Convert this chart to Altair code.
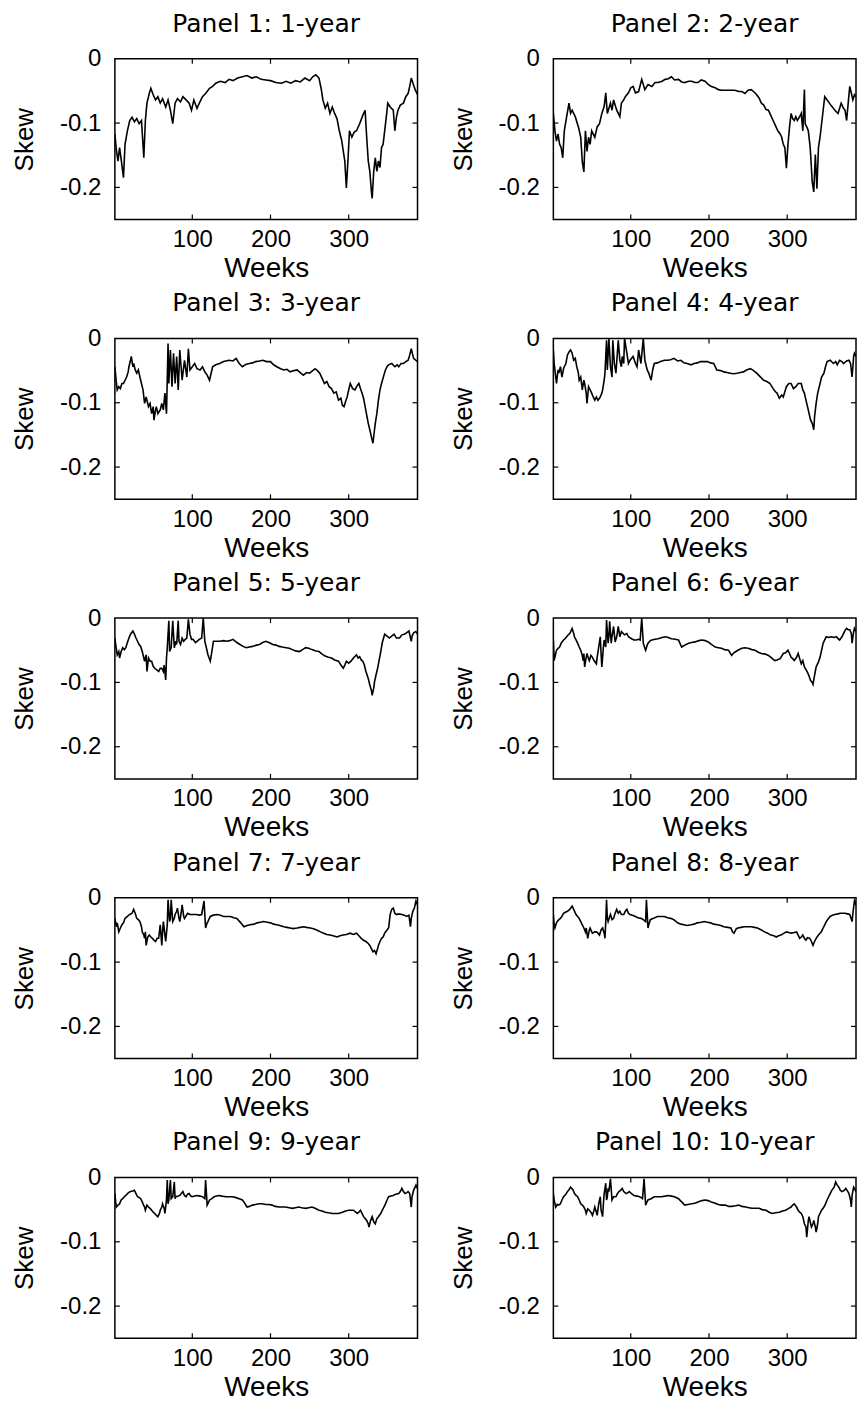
import altair as alt
import pandas as pd

TITLES = ["Panel 1: 1-year", "Panel 2: 2-year", "Panel 3: 3-year", "Panel 4: 4-year",
          "Panel 5: 5-year", "Panel 6: 6-year", "Panel 7: 7-year", "Panel 8: 8-year",
          "Panel 9: 9-year", "Panel 10: 10-year"]
X_TICKS = [100, 200, 300]
Y_TICKS = [0, -0.1, -0.2]

W1 = [1,3,5,7,9,12,14,17,20,23,26,29,32,35,38,40,42,45,47,50,53,56,59,62,66,69,72,75,78,81,85,88,92,96,99,102,106,109,113,117,122,126,130,136,142,147,152,158,164,170,176,182,188,194,200,207,214,220,226,232,238,244,250,254,258,262,265,267,270,273,276,279,282,285,288,291,293,295,297,299,301,304,307,310,314,318,321,323,325,327,329,330,332,334,336,338,340,342,344,346,348,350,353,357,359,361,363,366,370,373,376,378,380,383,385,388]
S1 = [-0.117,-0.143,-0.159,-0.138,-0.156,-0.185,-0.133,-0.112,-0.096,-0.091,-0.098,-0.093,-0.101,-0.096,-0.154,-0.096,-0.069,-0.054,-0.046,-0.056,-0.064,-0.059,-0.069,-0.062,-0.075,-0.064,-0.080,-0.101,-0.069,-0.062,-0.067,-0.059,-0.064,-0.069,-0.080,-0.064,-0.077,-0.069,-0.059,-0.054,-0.046,-0.043,-0.038,-0.035,-0.037,-0.032,-0.034,-0.030,-0.028,-0.026,-0.030,-0.028,-0.032,-0.033,-0.034,-0.037,-0.038,-0.035,-0.038,-0.034,-0.036,-0.030,-0.034,-0.028,-0.025,-0.030,-0.048,-0.064,-0.077,-0.069,-0.085,-0.075,-0.085,-0.093,-0.112,-0.127,-0.143,-0.159,-0.201,-0.159,-0.112,-0.122,-0.114,-0.112,-0.101,-0.088,-0.080,-0.122,-0.159,-0.175,-0.206,-0.217,-0.175,-0.154,-0.175,-0.159,-0.169,-0.138,-0.133,-0.112,-0.091,-0.069,-0.075,-0.080,-0.112,-0.091,-0.080,-0.072,-0.069,-0.059,-0.054,-0.043,-0.030,-0.041,-0.048,-0.056]

W2 = [1,3,5,7,9,11,13,15,18,21,23,25,29,33,36,38,40,42,44,46,48,50,54,57,60,63,66,68,70,74,76,78,82,86,88,91,93,97,100,103,106,110,114,118,122,127,131,135,140,144,148,152,156,161,165,169,174,178,182,186,190,195,199,203,208,212,216,220,226,233,238,242,246,250,254,258,261,264,267,270,273,276,279,282,285,288,291,293,295,297,299,301,303,305,307,309,311,313,316,318,320,322,323,325,327,329,330,332,334,336,338,340,342,344,346,348,351,354,357,361,365,369,372,374,376,378,380,382,384,386,388]
S2 = [-0.085,-0.112,-0.128,-0.117,-0.133,-0.138,-0.154,-0.112,-0.090,-0.069,-0.085,-0.080,-0.090,-0.106,-0.122,-0.160,-0.176,-0.112,-0.144,-0.122,-0.133,-0.112,-0.122,-0.106,-0.101,-0.085,-0.074,-0.053,-0.085,-0.069,-0.080,-0.064,-0.080,-0.090,-0.069,-0.064,-0.059,-0.053,-0.045,-0.043,-0.053,-0.051,-0.032,-0.048,-0.040,-0.043,-0.037,-0.037,-0.035,-0.032,-0.031,-0.028,-0.033,-0.032,-0.036,-0.037,-0.035,-0.035,-0.037,-0.037,-0.033,-0.035,-0.040,-0.043,-0.045,-0.048,-0.049,-0.049,-0.049,-0.049,-0.051,-0.051,-0.054,-0.049,-0.048,-0.052,-0.056,-0.061,-0.069,-0.072,-0.079,-0.080,-0.088,-0.096,-0.104,-0.112,-0.117,-0.122,-0.133,-0.138,-0.170,-0.133,-0.106,-0.085,-0.093,-0.096,-0.090,-0.096,-0.090,-0.085,-0.112,-0.048,-0.101,-0.106,-0.112,-0.133,-0.149,-0.191,-0.207,-0.149,-0.202,-0.138,-0.122,-0.101,-0.080,-0.059,-0.064,-0.069,-0.074,-0.080,-0.085,-0.069,-0.077,-0.080,-0.096,-0.069,-0.043,-0.053,-0.064,-0.056,-0.059]

W3 = [1,3,4,6,8,10,12,14,16,18,19,21,22,24,25,27,29,31,33,35,37,39,41,44,46,48,50,51,53,54,56,59,61,63,65,67,69,70,72,74,76,78,80,82,84,87,90,93,95,97,100,103,106,110,113,116,119,122,126,130,135,140,147,152,156,160,164,169,173,177,181,186,190,195,200,204,208,213,217,221,225,230,234,238,242,246,250,254,257,260,263,266,269,272,275,278,281,284,287,290,292,294,296,298,300,302,305,308,311,313,315,317,319,321,323,325,327,329,331,333,334,336,338,340,342,345,347,349,351,355,359,362,364,367,370,373,376,378,380,382,383,386,388]
S3 = [-0.044,-0.070,-0.080,-0.075,-0.078,-0.070,-0.070,-0.065,-0.060,-0.052,-0.044,-0.034,-0.028,-0.044,-0.039,-0.049,-0.054,-0.049,-0.060,-0.070,-0.080,-0.101,-0.091,-0.106,-0.101,-0.117,-0.106,-0.127,-0.111,-0.106,-0.117,-0.111,-0.101,-0.111,-0.085,-0.117,-0.008,-0.070,-0.018,-0.075,-0.023,-0.070,-0.028,-0.080,-0.018,-0.065,-0.034,-0.060,-0.016,-0.049,-0.044,-0.039,-0.047,-0.049,-0.044,-0.052,-0.057,-0.065,-0.044,-0.041,-0.039,-0.036,-0.034,-0.035,-0.031,-0.039,-0.044,-0.040,-0.039,-0.038,-0.036,-0.035,-0.034,-0.036,-0.036,-0.041,-0.044,-0.047,-0.049,-0.048,-0.052,-0.050,-0.049,-0.053,-0.057,-0.053,-0.054,-0.050,-0.047,-0.050,-0.054,-0.062,-0.070,-0.067,-0.075,-0.078,-0.085,-0.083,-0.096,-0.093,-0.104,-0.106,-0.098,-0.091,-0.080,-0.070,-0.078,-0.080,-0.073,-0.070,-0.078,-0.085,-0.093,-0.106,-0.119,-0.132,-0.142,-0.153,-0.163,-0.142,-0.132,-0.117,-0.096,-0.080,-0.070,-0.057,-0.049,-0.044,-0.041,-0.039,-0.044,-0.041,-0.044,-0.039,-0.039,-0.036,-0.034,-0.026,-0.016,-0.026,-0.031,-0.034,-0.036]

W4 = [1,2,3,5,7,8,10,12,14,15,17,19,21,23,25,27,29,31,33,34,36,38,40,41,43,44,46,48,50,52,54,56,58,60,61,63,64,66,67,69,70,72,74,76,77,79,81,84,86,88,89,91,92,95,97,99,103,106,108,110,113,116,118,121,123,126,128,130,134,138,143,147,151,155,160,164,168,172,177,181,185,189,194,198,202,206,210,215,219,223,227,231,236,240,244,248,253,257,261,265,270,274,278,282,285,287,290,293,295,297,299,302,305,308,311,314,318,320,322,324,326,328,330,332,334,335,337,339,342,344,347,349,351,355,359,362,364,367,370,372,376,379,381,383,385,386,388]
S4 = [-0.018,-0.039,-0.049,-0.070,-0.049,-0.054,-0.044,-0.060,-0.047,-0.044,-0.039,-0.026,-0.021,-0.018,-0.023,-0.034,-0.031,-0.044,-0.054,-0.065,-0.060,-0.080,-0.065,-0.070,-0.085,-0.101,-0.075,-0.080,-0.085,-0.091,-0.096,-0.091,-0.096,-0.093,-0.091,-0.085,-0.080,-0.065,-0.054,-0.003,-0.049,0.000,-0.044,-0.060,-0.003,-0.039,-0.054,-0.003,-0.034,-0.044,-0.028,-0.039,0.000,-0.023,-0.039,-0.034,-0.028,-0.039,-0.044,-0.018,-0.039,0.000,-0.034,-0.049,-0.054,-0.065,-0.049,-0.039,-0.038,-0.036,-0.034,-0.034,-0.033,-0.031,-0.035,-0.034,-0.038,-0.039,-0.041,-0.039,-0.038,-0.036,-0.036,-0.036,-0.038,-0.039,-0.049,-0.050,-0.052,-0.053,-0.054,-0.055,-0.054,-0.053,-0.052,-0.049,-0.047,-0.050,-0.054,-0.059,-0.065,-0.067,-0.070,-0.078,-0.083,-0.085,-0.093,-0.088,-0.091,-0.083,-0.075,-0.070,-0.070,-0.078,-0.075,-0.070,-0.070,-0.080,-0.085,-0.096,-0.106,-0.117,-0.127,-0.132,-0.142,-0.122,-0.101,-0.085,-0.070,-0.060,-0.054,-0.044,-0.036,-0.034,-0.039,-0.036,-0.041,-0.034,-0.036,-0.039,-0.035,-0.034,-0.039,-0.060,-0.028,-0.023,-0.028]

W5 = [1,2,4,6,7,9,11,13,15,17,19,21,24,26,28,30,32,34,36,38,39,41,42,44,46,48,50,52,55,57,59,61,63,64,66,67,68,70,71,73,75,77,79,80,82,83,85,87,89,91,93,95,97,99,101,104,106,109,112,114,116,118,120,123,125,127,131,135,140,144,148,152,157,161,165,169,173,177,182,186,190,194,198,203,207,211,215,220,224,228,232,237,241,245,249,253,258,262,266,270,274,278,282,287,290,293,295,297,300,303,306,310,312,314,316,318,320,322,325,327,329,330,332,333,335,337,339,341,343,346,349,352,355,358,361,365,368,371,374,377,380,381,383,386,388]
S5 = [-0.031,-0.041,-0.057,-0.052,-0.062,-0.052,-0.046,-0.049,-0.046,-0.038,-0.031,-0.025,-0.020,-0.025,-0.031,-0.036,-0.041,-0.044,-0.052,-0.062,-0.067,-0.057,-0.083,-0.062,-0.067,-0.067,-0.075,-0.078,-0.081,-0.083,-0.078,-0.078,-0.083,-0.073,-0.096,-0.062,-0.046,-0.004,-0.052,-0.046,-0.004,-0.046,-0.036,-0.041,-0.004,-0.036,-0.041,-0.031,-0.036,-0.033,-0.031,-0.002,-0.025,-0.033,-0.033,-0.038,-0.036,-0.033,-0.031,0.000,-0.036,-0.046,-0.057,-0.067,-0.052,-0.036,-0.036,-0.036,-0.035,-0.036,-0.035,-0.033,-0.038,-0.041,-0.044,-0.046,-0.045,-0.044,-0.042,-0.041,-0.038,-0.036,-0.038,-0.041,-0.042,-0.044,-0.045,-0.046,-0.047,-0.049,-0.051,-0.052,-0.049,-0.046,-0.047,-0.049,-0.051,-0.052,-0.056,-0.059,-0.061,-0.062,-0.065,-0.067,-0.073,-0.078,-0.073,-0.067,-0.070,-0.067,-0.062,-0.057,-0.062,-0.060,-0.065,-0.067,-0.073,-0.083,-0.094,-0.104,-0.112,-0.120,-0.109,-0.099,-0.088,-0.078,-0.065,-0.052,-0.038,-0.025,-0.028,-0.031,-0.028,-0.025,-0.031,-0.031,-0.026,-0.025,-0.023,-0.020,-0.036,-0.028,-0.023,-0.021,-0.025]

W6 = [1,2,4,5,7,9,11,14,16,18,20,22,25,27,28,30,32,34,36,38,39,40,41,43,44,46,47,49,51,53,56,57,59,61,62,63,65,66,68,69,71,72,73,75,76,78,80,82,84,86,88,92,95,97,101,104,107,110,112,114,116,118,119,121,122,125,127,131,135,140,144,148,152,157,161,165,169,174,178,182,187,191,195,199,203,208,212,216,220,225,229,231,233,237,242,246,250,255,259,263,267,272,276,280,284,287,291,295,298,301,303,305,307,309,312,314,316,318,320,322,325,327,330,332,333,335,337,340,342,344,346,348,350,353,357,360,363,365,367,370,372,374,376,378,380,382,383,385,386,388]
S6 = [-0.034,-0.066,-0.055,-0.050,-0.047,-0.045,-0.039,-0.034,-0.032,-0.029,-0.026,-0.024,-0.016,-0.024,-0.029,-0.034,-0.039,-0.045,-0.050,-0.058,-0.066,-0.055,-0.076,-0.061,-0.055,-0.063,-0.066,-0.058,-0.061,-0.066,-0.071,-0.061,-0.045,-0.029,-0.055,-0.076,-0.045,-0.034,-0.045,-0.003,-0.039,-0.029,-0.005,-0.039,-0.029,-0.013,-0.037,-0.029,-0.013,-0.029,-0.021,-0.026,-0.024,-0.029,-0.032,-0.034,-0.034,-0.033,-0.034,0.000,-0.039,-0.047,-0.050,-0.042,-0.039,-0.035,-0.034,-0.033,-0.032,-0.030,-0.029,-0.030,-0.032,-0.033,-0.034,-0.045,-0.042,-0.039,-0.038,-0.037,-0.035,-0.034,-0.035,-0.037,-0.041,-0.045,-0.046,-0.047,-0.049,-0.050,-0.058,-0.055,-0.053,-0.050,-0.047,-0.046,-0.047,-0.049,-0.050,-0.053,-0.055,-0.056,-0.058,-0.062,-0.066,-0.065,-0.063,-0.055,-0.054,-0.050,-0.055,-0.061,-0.063,-0.066,-0.061,-0.055,-0.063,-0.071,-0.066,-0.076,-0.082,-0.087,-0.097,-0.100,-0.103,-0.089,-0.076,-0.068,-0.061,-0.050,-0.039,-0.034,-0.029,-0.030,-0.029,-0.030,-0.029,-0.032,-0.034,-0.029,-0.024,-0.019,-0.016,-0.018,-0.018,-0.024,-0.039,-0.021,-0.016,-0.021]

W7 = [1,3,4,6,8,10,12,14,17,20,23,25,27,29,31,33,35,36,38,39,40,41,43,45,47,49,51,53,55,57,59,61,62,63,65,66,68,69,71,72,73,75,77,78,80,81,83,84,86,87,89,90,94,97,101,105,109,112,115,117,119,120,123,127,132,136,140,145,149,153,157,162,166,170,174,179,183,187,191,196,200,204,208,212,217,221,225,229,234,238,242,246,251,255,259,264,268,272,276,280,285,289,293,297,302,306,310,313,316,319,322,325,327,329,331,333,335,337,338,340,342,344,346,349,351,352,353,355,357,359,361,364,368,371,374,377,379,380,382,384,386,388]
S7 = [-0.032,-0.045,-0.039,-0.053,-0.047,-0.042,-0.039,-0.032,-0.029,-0.026,-0.024,-0.018,-0.024,-0.032,-0.034,-0.037,-0.045,-0.053,-0.058,-0.063,-0.053,-0.074,-0.061,-0.058,-0.061,-0.063,-0.066,-0.068,-0.063,-0.063,-0.042,-0.074,-0.053,-0.037,-0.058,-0.068,-0.042,-0.003,-0.037,-0.032,-0.003,-0.037,-0.032,-0.026,-0.021,-0.016,-0.032,-0.037,-0.021,-0.011,-0.029,-0.032,-0.024,-0.026,-0.026,-0.026,-0.027,-0.026,-0.005,-0.047,-0.039,-0.037,-0.029,-0.027,-0.026,-0.027,-0.029,-0.029,-0.029,-0.031,-0.032,-0.039,-0.045,-0.043,-0.042,-0.041,-0.039,-0.038,-0.037,-0.038,-0.039,-0.041,-0.042,-0.043,-0.045,-0.046,-0.047,-0.048,-0.047,-0.046,-0.045,-0.046,-0.047,-0.048,-0.050,-0.053,-0.055,-0.057,-0.058,-0.059,-0.061,-0.059,-0.058,-0.057,-0.055,-0.057,-0.055,-0.059,-0.063,-0.066,-0.068,-0.071,-0.074,-0.079,-0.084,-0.082,-0.087,-0.079,-0.074,-0.068,-0.063,-0.061,-0.055,-0.050,-0.047,-0.037,-0.026,-0.018,-0.016,-0.024,-0.026,-0.025,-0.026,-0.027,-0.029,-0.027,-0.045,-0.032,-0.021,-0.016,-0.005,-0.011]

W8 = [1,2,3,5,6,8,10,12,14,17,19,22,25,27,30,32,34,36,38,40,42,43,45,47,48,50,51,54,56,58,60,62,64,66,67,68,69,70,71,73,74,76,78,80,82,84,86,88,91,93,95,97,99,102,106,109,113,116,119,120,122,123,125,129,134,138,143,147,151,155,160,164,168,172,177,181,185,190,194,198,202,206,211,215,219,224,228,230,232,235,237,241,245,250,254,258,262,267,271,275,279,283,286,289,292,296,299,302,305,309,312,314,316,318,320,322,324,326,329,331,333,335,337,340,342,344,346,348,350,353,355,358,361,365,368,371,374,377,380,383,384,386,388]
S8 = [-0.026,-0.042,-0.047,-0.039,-0.037,-0.034,-0.032,-0.029,-0.024,-0.022,-0.021,-0.018,-0.013,-0.018,-0.026,-0.029,-0.032,-0.037,-0.042,-0.047,-0.053,-0.047,-0.063,-0.050,-0.047,-0.053,-0.055,-0.053,-0.053,-0.055,-0.058,-0.050,-0.047,-0.055,-0.063,-0.037,-0.003,-0.032,-0.037,-0.029,-0.026,-0.034,-0.032,-0.024,-0.018,-0.024,-0.021,-0.026,-0.026,-0.021,-0.018,-0.024,-0.026,-0.027,-0.029,-0.031,-0.032,-0.034,-0.037,-0.003,-0.047,-0.042,-0.034,-0.032,-0.029,-0.029,-0.029,-0.031,-0.032,-0.034,-0.039,-0.041,-0.042,-0.043,-0.042,-0.041,-0.039,-0.038,-0.037,-0.038,-0.039,-0.041,-0.042,-0.043,-0.045,-0.046,-0.047,-0.053,-0.055,-0.048,-0.047,-0.046,-0.045,-0.045,-0.045,-0.046,-0.047,-0.050,-0.053,-0.055,-0.058,-0.059,-0.061,-0.059,-0.058,-0.055,-0.053,-0.054,-0.055,-0.054,-0.053,-0.058,-0.063,-0.061,-0.058,-0.063,-0.066,-0.062,-0.063,-0.068,-0.074,-0.068,-0.063,-0.058,-0.055,-0.052,-0.047,-0.042,-0.037,-0.032,-0.029,-0.027,-0.026,-0.025,-0.024,-0.024,-0.024,-0.025,-0.026,-0.037,-0.024,-0.005,-0.011]

W9 = [1,2,3,5,7,9,11,13,15,18,21,24,26,28,30,32,34,36,37,39,40,42,44,46,48,50,52,54,56,58,59,61,62,64,65,67,68,69,70,72,73,75,77,78,79,82,84,86,88,90,92,94,96,98,100,103,106,110,113,116,117,119,121,122,125,128,131,134,138,143,147,151,155,160,164,166,168,170,173,177,181,185,189,194,198,202,206,211,215,219,224,228,232,236,240,245,249,253,257,262,266,270,274,279,283,287,292,296,300,303,306,309,311,313,315,317,319,321,323,325,326,328,330,332,334,336,338,341,343,345,347,349,351,354,357,360,364,366,368,370,372,374,376,378,380,381,383,386,388]
S9 = [-0.025,-0.038,-0.046,-0.043,-0.041,-0.035,-0.033,-0.030,-0.028,-0.024,-0.022,-0.021,-0.020,-0.025,-0.030,-0.031,-0.033,-0.038,-0.041,-0.046,-0.051,-0.043,-0.046,-0.048,-0.051,-0.054,-0.056,-0.059,-0.061,-0.056,-0.051,-0.046,-0.041,-0.048,-0.056,-0.035,-0.004,-0.041,-0.035,-0.004,-0.033,-0.030,-0.007,-0.033,-0.030,-0.029,-0.028,-0.025,-0.022,-0.028,-0.030,-0.026,-0.025,-0.029,-0.030,-0.029,-0.028,-0.029,-0.030,-0.033,-0.004,-0.043,-0.038,-0.035,-0.033,-0.030,-0.029,-0.028,-0.029,-0.030,-0.030,-0.030,-0.031,-0.033,-0.035,-0.038,-0.042,-0.046,-0.045,-0.043,-0.042,-0.041,-0.041,-0.042,-0.042,-0.043,-0.045,-0.046,-0.046,-0.046,-0.047,-0.048,-0.047,-0.046,-0.047,-0.048,-0.047,-0.046,-0.048,-0.051,-0.052,-0.054,-0.055,-0.056,-0.056,-0.056,-0.054,-0.052,-0.051,-0.051,-0.051,-0.054,-0.056,-0.054,-0.051,-0.056,-0.061,-0.064,-0.067,-0.072,-0.077,-0.067,-0.061,-0.069,-0.072,-0.064,-0.061,-0.056,-0.051,-0.046,-0.041,-0.035,-0.030,-0.029,-0.028,-0.026,-0.025,-0.022,-0.017,-0.022,-0.025,-0.024,-0.022,-0.025,-0.046,-0.030,-0.020,-0.012,-0.017]

W10 = [1,2,4,6,7,9,10,12,14,17,19,21,23,26,28,30,32,34,36,38,40,42,43,45,47,49,51,53,54,56,57,59,61,62,64,65,66,68,69,70,71,72,74,76,78,81,83,85,87,89,91,94,96,98,101,104,108,111,113,115,117,119,120,122,126,130,135,139,144,148,152,156,161,165,169,173,178,182,186,191,195,199,203,208,212,216,221,225,229,234,238,242,247,251,255,260,264,268,273,277,281,285,290,294,298,302,305,307,309,312,314,316,318,320,322,324,325,327,328,330,331,333,334,336,337,339,340,342,344,347,349,351,353,355,357,360,362,364,366,368,370,373,375,377,379,381,382,383,385,386,388]
S10 = [-0.025,-0.035,-0.046,-0.042,-0.043,-0.042,-0.041,-0.035,-0.030,-0.026,-0.022,-0.019,-0.015,-0.019,-0.025,-0.028,-0.030,-0.035,-0.041,-0.043,-0.046,-0.051,-0.056,-0.049,-0.051,-0.054,-0.059,-0.051,-0.046,-0.054,-0.059,-0.041,-0.030,-0.051,-0.061,-0.041,-0.025,-0.009,-0.035,-0.030,-0.017,-0.022,-0.002,-0.035,-0.030,-0.030,-0.025,-0.022,-0.020,-0.017,-0.022,-0.025,-0.024,-0.022,-0.025,-0.028,-0.029,-0.030,-0.031,-0.033,-0.002,-0.043,-0.040,-0.035,-0.033,-0.030,-0.030,-0.030,-0.029,-0.028,-0.029,-0.030,-0.033,-0.038,-0.043,-0.042,-0.041,-0.040,-0.038,-0.036,-0.035,-0.036,-0.038,-0.040,-0.042,-0.043,-0.043,-0.045,-0.045,-0.044,-0.043,-0.045,-0.046,-0.047,-0.048,-0.048,-0.048,-0.050,-0.051,-0.054,-0.056,-0.055,-0.054,-0.052,-0.051,-0.048,-0.046,-0.043,-0.041,-0.046,-0.051,-0.054,-0.056,-0.061,-0.072,-0.077,-0.093,-0.067,-0.061,-0.072,-0.077,-0.072,-0.067,-0.077,-0.085,-0.072,-0.061,-0.056,-0.051,-0.046,-0.041,-0.035,-0.030,-0.025,-0.020,-0.015,-0.007,-0.012,-0.015,-0.020,-0.022,-0.020,-0.017,-0.021,-0.025,-0.035,-0.046,-0.028,-0.015,-0.017,-0.022]

WEEKS = [W1, W2, W3, W4, W5, W6, W7, W8, W9, W10]
SKEWS = [S1, S2, S3, S4, S5, S6, S7, S8, S9, S10]

FONT = "Liberation Sans"
PW, PH = 303, 161
TICK = 5

X_SCALE = alt.Scale(domain=[1, 388], nice=False, zero=False)
Y_SCALE = alt.Scale(domain=[-0.25, 0], nice=False, zero=False)
X_AXIS = alt.Axis(title="Weeks", values=X_TICKS, labelPadding=8, titlePadding=3, titleFontSize=28)
Y_AXIS = alt.Axis(title="Skew", values=Y_TICKS, labelPadding=14, titlePadding=22, titleFontSize=26,
                  labelExpr="datum.value == 0 ? '0' : '-' + format(-datum.value, '.1f')")
XT = pd.DataFrame({"week": X_TICKS})
YT = pd.DataFrame({"skew": [v for v in Y_TICKS if v != 0]})


def panel(title, weeks, skew):
    df = pd.DataFrame({"week": weeks, "skew": skew})
    line = alt.Chart(df).mark_line(color="black", strokeWidth=1.6, clip=True).encode(
        x=alt.X("week:Q", scale=X_SCALE, axis=X_AXIS),
        y=alt.Y("skew:Q", scale=Y_SCALE, axis=Y_AXIS),
    )
    # MATLAB-style inward tick marks on all four sides
    xb = alt.Chart(XT).mark_rule(color="black", strokeWidth=1.2).encode(
        x=alt.X("week:Q", scale=X_SCALE, axis=X_AXIS), y=alt.value(PH), y2=alt.value(PH - TICK))
    xt = alt.Chart(XT).mark_rule(color="black", strokeWidth=1.2).encode(
        x=alt.X("week:Q", scale=X_SCALE, axis=X_AXIS), y=alt.value(0), y2=alt.value(TICK))
    yl = alt.Chart(YT).mark_rule(color="black", strokeWidth=1.2).encode(
        y=alt.Y("skew:Q", scale=Y_SCALE, axis=Y_AXIS), x=alt.value(0), x2=alt.value(TICK))
    yr = alt.Chart(YT).mark_rule(color="black", strokeWidth=1.2).encode(
        y=alt.Y("skew:Q", scale=Y_SCALE, axis=Y_AXIS), x=alt.value(PW), x2=alt.value(PW - TICK))
    return alt.layer(line, xb, xt, yl, yr).properties(
        width=PW, height=PH,
        title=alt.TitleParams(title, font="DejaVu Sans", fontSize=25, fontWeight="normal",
                              color="black", anchor="middle", frame="group", offset=10))


rows = []
for r in range(5):
    i, j = 2 * r, 2 * r + 1
    rows.append(alt.hconcat(panel(TITLES[i], WEEKS[i], SKEWS[i]),
                            panel(TITLES[j], WEEKS[j], SKEWS[j]), spacing=29))

chart = (
    alt.vconcat(*rows, spacing=7)
    .configure(background="white", padding={"left": 2, "top": 2, "right": 2, "bottom": 2})
    .configure_view(stroke="black", strokeWidth=1.5)
    .configure_axis(domain=False, ticks=False, grid=False,
                    labelFont=FONT, labelFontSize=24, labelColor="black",
                    titleFont=FONT, titleFontWeight="normal", titleColor="black")
)

chart.save("out.html", embed_options={"renderer": "svg", "actions": False})
